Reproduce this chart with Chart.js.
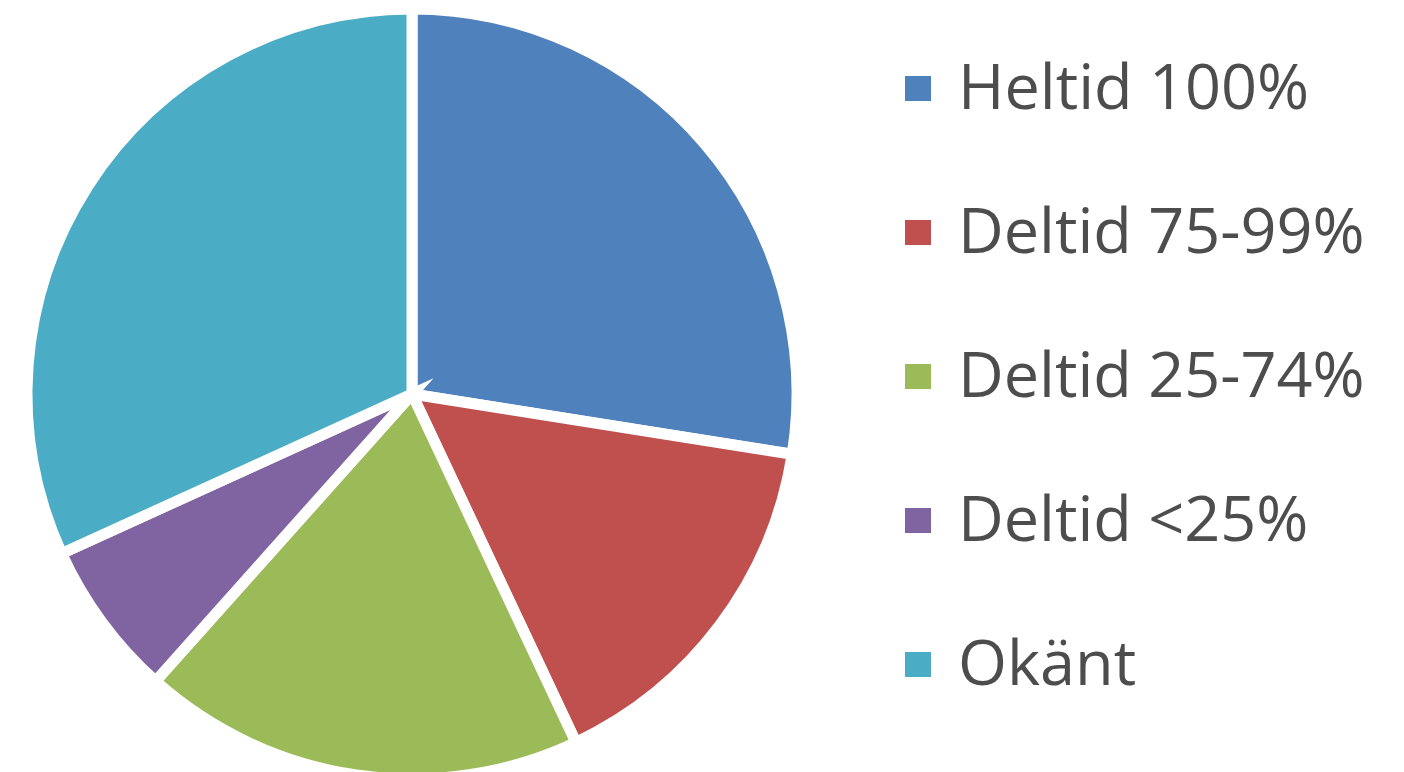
<!DOCTYPE html>
<html>
<head>
<meta charset="utf-8">
<title>Tjänstgöringsgrad</title>
<script src="https://cdn.jsdelivr.net/npm/chart.js@4/dist/chart.umd.min.js"></script>
<style>
    html, body { margin: 0; padding: 0; background: #ffffff; }
    #wrap { width: 1404px; height: 772px; }
</style>
</head>
<body>
<div id="wrap"><canvas id="pieChart" width="1404" height="772"></canvas></div>
<script>
// values (share of the pie, in %)
const categories = ['Heltid 100%', 'Deltid 75-99%', 'Deltid 25-74%', 'Deltid <25%', 'Okänt'];
const shares = [27.5, 15.5, 18.6, 6.6, 31.8];
const sliceColors = ['#4F81BD', '#C0504D', '#9BBB59', '#8064A2', '#4BACC6'];

// legend drawn on the right side, Excel style (small square + big label)
const sideLegend = {
    id: 'sideLegend',
    afterDraw(chart) {
        const ctx = chart.ctx;
        const labels = chart.data.labels;
        const colors = chart.data.datasets[0].backgroundColor;
        ctx.save();
        ctx.font = '63px "Open Sans", "Noto Sans", sans-serif';
        ctx.textBaseline = 'alphabetic';
        ctx.textAlign = 'left';
        labels.forEach((label, i) => {
            let baseline = 109 + i * 144;
            ctx.fillStyle = colors[i];
            ctx.fillRect(905, baseline - 33, 26, 25);
            ctx.fillStyle = '#4d4d4d';
            ctx.fillText(label, 958, baseline);
        });
        ctx.restore();
    }
};

function drawChart() {
    const ctx = document.getElementById('pieChart').getContext('2d');
    window.myChart = new Chart(ctx, {
        type: 'pie',
        data: {
            labels: categories,
            datasets: [{
                data: shares,
                backgroundColor: sliceColors,
                borderColor: '#ffffff',
                borderWidth: 11,
                borderJoinStyle: 'miter'
            }]
        },
        options: {
            responsive: false,
            animation: false,
            radius: 385,
            layout: { padding: { left: 0, right: 580, top: 16, bottom: 0 } },
            plugins: {
                legend: { display: false },
                tooltip: { enabled: false }
            }
        },
        plugins: [sideLegend]
    });
}

window.addEventListener('load', drawChart);
</script>
</body>
</html>
